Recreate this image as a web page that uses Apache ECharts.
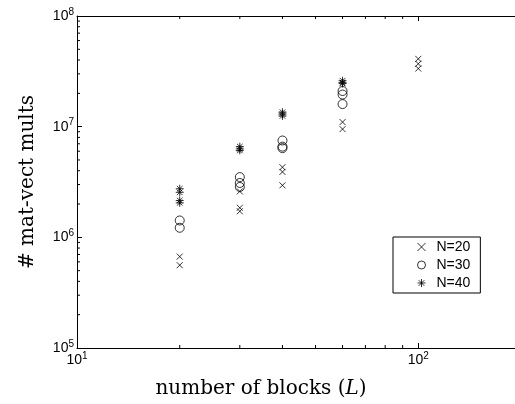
<!DOCTYPE html>
<html>
<head>
<meta charset="utf-8">
<script src="https://cdn.jsdelivr.net/npm/echarts@6/dist/echarts.min.js"></script>
<style>
  html, body { margin: 0; padding: 0; background: #fff; }
  #chart { width: 515px; height: 404px; }
</style>
</head>
<body>
<div id="chart"></div>
<script>
/* data */
const n20X = [20, 20, 30, 30, 30, 40, 40, 40, 60, 60, 100, 100, 100];
const n20Y = [6.7e5, 5.6e5, 2.6e6, 1.85e6, 1.72e6, 4.3e6, 3.9e6, 2.95e6, 1.1e7, 9.5e6, 4.1e7, 3.7e7, 3.35e7];
const n30X = [20, 20, 30, 30, 30, 40, 40, 40, 60, 60, 60];
const n30Y = [1.42e6, 1.22e6, 3.5e6, 3.1e6, 2.85e6, 7.5e6, 6.6e6, 6.4e6, 2.1e7, 1.95e7, 1.6e7];
const n40X = [20, 20, 20, 20, 30, 30, 30, 40, 40, 40, 60, 60, 60];
const n40Y = [2.75e6, 2.55e6, 2.15e6, 2.05e6, 6.6e6, 6.3e6, 6.1e6, 1.35e7, 1.3e7, 1.25e7, 2.6e7, 2.5e7, 2.45e7];

/* minor tick positions */
const xMinor = [20, 30, 40, 50, 60, 70, 80, 90];
const yMinor = [2e5, 3e5, 4e5, 5e5, 6e5, 7e5, 8e5, 9e5,
                2e6, 3e6, 4e6, 5e6, 6e6, 7e6, 8e6, 9e6,
                2e7, 3e7, 4e7, 5e7, 6e7, 7e7, 8e7, 9e7];

// x runs to 200 but the figure is cut a few px before the right edge
const xMin = 10, xMax = 200, yMin = 1e5, yMax = 1e8;

const crossPath = "path://M0,0L10,10M10,0L0,10";
const starPath = "path://M5,0L5,10M0,5L10,5M1.5,1.5L8.5,8.5M8.5,1.5L1.5,8.5";

function zip(xs, ys) {
  return xs.map(function (x, i) { return [x, ys[i]]; });
}

/* 10^k labels */
function powLabel(v) {
  let e = Math.log10(v);
  if (Math.abs(e - Math.round(e)) > 1e-6) return "";
  return "10{e|" + Math.round(e) + "}";
}

const labelRich = {
  e: { fontFamily: "Liberation Sans", fontSize: 10, color: "#000", lineHeight: 18, verticalAlign: "top" },
};

let myChart = echarts.init(document.getElementById("chart"));

let markStyle = { color: "none", borderColor: "#000", borderWidth: 1 };

let tickLabel = {
  formatter: powLabel,
  rich: labelRich,
  margin: 3,
  fontFamily: "Liberation Sans",
  fontSize: 14,
  color: "#000",
  lineHeight: 18,
};

let option = {
  animation: false,
  grid: { left: 77, top: 16, right: -6, bottom: 56, outerBoundsMode: "none", containLabel: false },
  legend: {
    data: ["N=20", "N=30", "N=40"],
    orient: "vertical",
    left: 393,
    top: 237,
    padding: [3, 10, 3, 22],
    itemGap: 4,
    itemWidth: 8,
    itemHeight: 8,
    itemStyle: { borderWidth: 1 },
    borderColor: "#000",
    borderWidth: 1,
    backgroundColor: "#fff",
    textStyle: { fontFamily: "Liberation Sans", fontSize: 14, color: "#000", padding: [0, 0, 0, 6], lineHeight: 14 },
  },
  xAxis: [
    {
      type: "log",
      min: xMin,
      max: xMax,
      logBase: 10,
      name: "number of blocks ({i|L})",
      nameLocation: "middle",
      nameGap: 31,
      nameTextStyle: {
        fontFamily: "DejaVu Serif",
        fontSize: 20,
        color: "#000",
        padding: [0, 76, 0, 0],
        rich: { i: { fontFamily: "DejaVu Serif", fontStyle: "italic", fontSize: 20, color: "#000" } },
      },
      axisLine: { lineStyle: { color: "#000", width: 1 } },
      axisTick: { inside: true, length: 5, lineStyle: { color: "#000" } },
      axisLabel: tickLabel,
      splitLine: { show: false },
    },
    {
      type: "log",
      position: "top",
      min: xMin,
      max: xMax,
      logBase: 10,
      axisLine: { lineStyle: { color: "#000", width: 1 } },
      axisTick: { inside: true, length: 5, lineStyle: { color: "#000" } },
      axisLabel: { show: false },
      splitLine: { show: false },
    },
  ],
  yAxis: {
    type: "log",
    min: yMin,
    max: yMax,
    logBase: 10,
    name: "# mat-vect mults",
    nameLocation: "middle",
    nameGap: 39,
    nameTextStyle: { fontFamily: "DejaVu Serif", fontSize: 20, color: "#000" },
    axisLine: { lineStyle: { color: "#000", width: 1 } },
    axisTick: { inside: true, length: 5, lineStyle: { color: "#000" } },
    axisLabel: tickLabel,
    splitLine: { show: false },
  },
  series: [
    {
      name: "N=20",
      type: "scatter",
      symbol: crossPath,
      symbolSize: 6,
      itemStyle: markStyle,
      data: zip(n20X, n20Y),
    },
    {
      name: "N=30",
      type: "scatter",
      symbol: "circle",
      symbolSize: 9,
      itemStyle: markStyle,
      data: zip(n30X, n30Y),
    },
    {
      name: "N=40",
      type: "scatter",
      symbol: starPath,
      symbolSize: 8,
      itemStyle: markStyle,
      data: zip(n40X, n40Y),
    },
    {
      //minor ticks on x (bottom and top)
      type: "custom",
      silent: true,
      clip: false,
      data: xMinor.map(function (v) { return [v]; }),
      renderItem: function (params, api) {
        let b = api.coord([api.value(0), yMin]);
        let t = api.coord([api.value(0), yMax]);
        let st = { stroke: "#000", lineWidth: 1 };
        return {
          type: "group",
          children: [
            { type: "line", shape: { x1: b[0], y1: b[1], x2: b[0], y2: b[1] - 3 }, style: st },
            { type: "line", shape: { x1: t[0], y1: t[1], x2: t[0], y2: t[1] + 3 }, style: st },
          ],
        };
      },
    },
    {
      //minor ticks on y (left)
      type: "custom",
      silent: true,
      clip: false,
      data: yMinor.map(function (v) { return [xMin, v]; }),
      renderItem: function (params, api) {
        let p = api.coord([xMin, api.value(1)]);
        return {
          type: "line",
          shape: { x1: p[0], y1: p[1], x2: p[0] + 3, y2: p[1] },
          style: { stroke: "#000", lineWidth: 1 },
        };
      },
    },
  ],
};
myChart.setOption(option);
</script>
</body>
</html>
